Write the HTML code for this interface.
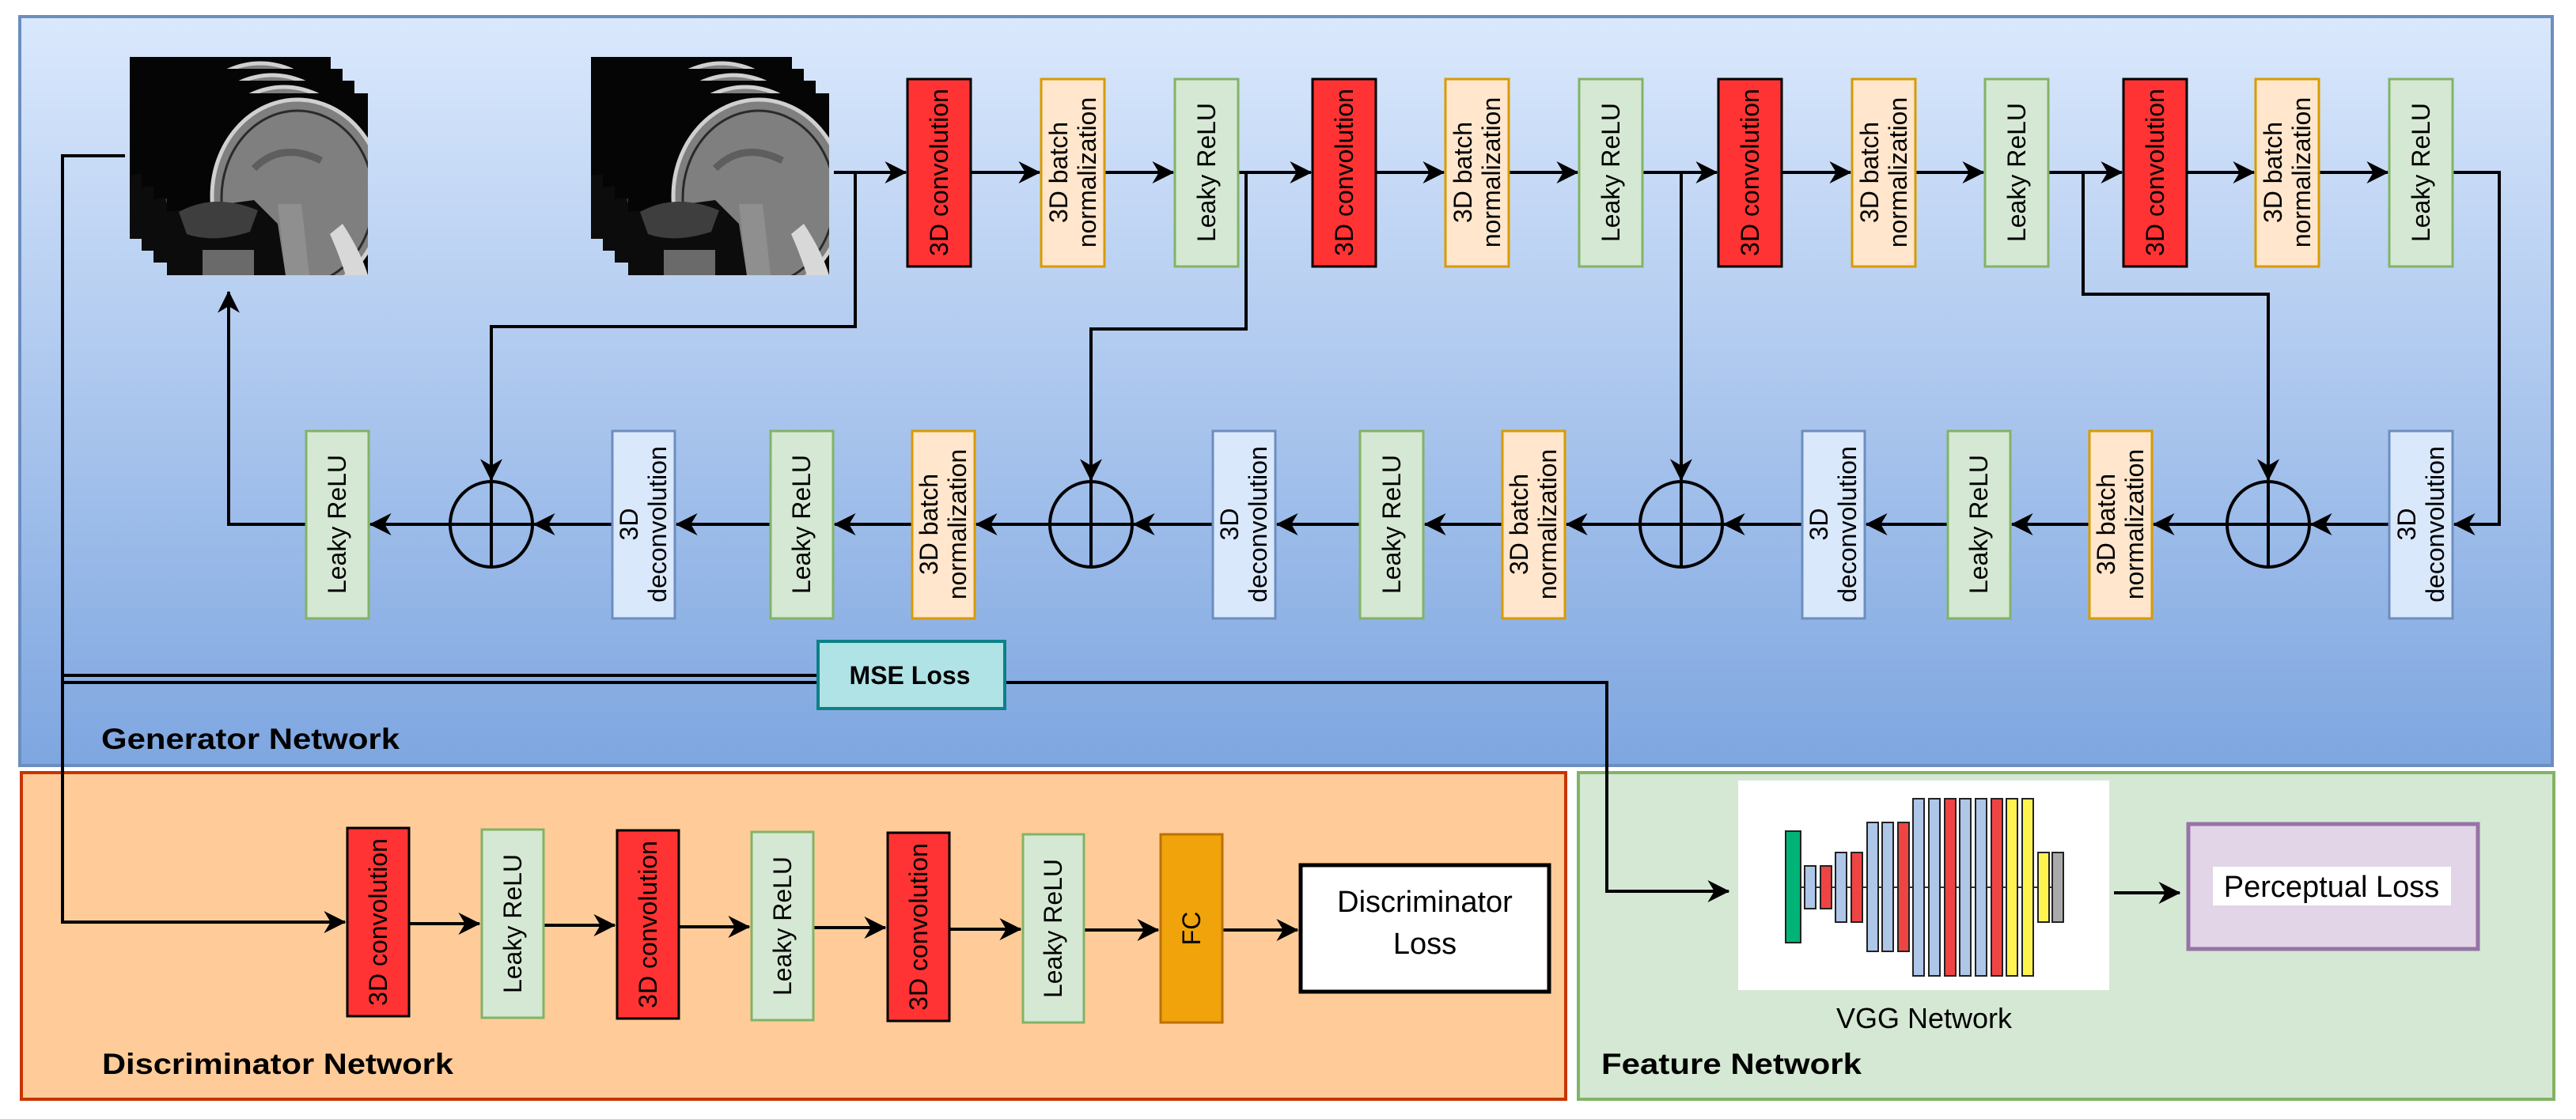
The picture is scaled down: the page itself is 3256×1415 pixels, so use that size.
<!DOCTYPE html>
<html><head><meta charset="utf-8"><style>
html,body{margin:0;padding:0;background:#fff;}
svg{display:block;font-family:"Liberation Sans",Arial,sans-serif;}
</style></head><body>
<svg width="3256" height="1415" viewBox="0 0 3256 1415" xmlns="http://www.w3.org/2000/svg">
<defs>
<linearGradient id="gbg" x1="0" y1="0" x2="0" y2="1">
<stop offset="0" stop-color="#dae8fc"/><stop offset="1" stop-color="#7ea6e0"/>
</linearGradient>
<marker id="ah" viewBox="0 0 10 10" refX="9.5" refY="5" markerWidth="7" markerHeight="7" markerUnits="strokeWidth" orient="auto">
<path d="M0,0 L10,5 L0,10 L3,5 z" fill="#000"/>
</marker>
<clipPath id="mc"><rect x="0" y="0" width="254" height="230"/></clipPath>
<g id="mri">
<rect x="0" y="0" width="254" height="230" fill="#050505"/>
<g clip-path="url(#mc)">
<ellipse cx="165" cy="130" rx="108" ry="122" fill="#7f7f7f" stroke="#d0d0d0" stroke-width="5"/>
<ellipse cx="165" cy="132" rx="96" ry="110" fill="none" stroke="#2a2a2a" stroke-width="3"/>
<path d="M110,95 Q145,60 195,85" fill="none" stroke="#5e5e5e" stroke-width="9"/>
<path d="M0,150 L110,135 L140,165 L150,230 L0,230 z" fill="#0c0c0c"/>
<path d="M15,150 Q60,125 115,148 L105,175 Q60,190 25,178 z" fill="#3e3e3e"/>
<rect x="45" y="198" width="65" height="32" fill="#6a6a6a"/>
<path d="M140,140 L170,140 L180,230 L150,230 z" fill="#8f8f8f"/>
<path d="M222,165 Q245,200 254,230 L226,230 Q216,200 206,178 z" fill="#d8d8d8"/>
</g>
</g>
</defs>

<rect x="25" y="21" width="3201" height="947" fill="url(#gbg)" stroke="#6c8ebf" stroke-width="4"/>
<rect x="27" y="977" width="1952" height="413" fill="#ffcc99" stroke="#c73500" stroke-width="4"/>
<rect x="1995" y="977" width="1233" height="413" fill="#d5e8d4" stroke="#82b366" stroke-width="4"/>

<use href="#mri" x="164" y="72"/><use href="#mri" x="179" y="87"/><use href="#mri" x="194" y="102"/><use href="#mri" x="211" y="118"/>
<use href="#mri" x="747" y="72"/><use href="#mri" x="762" y="87"/><use href="#mri" x="777" y="102"/><use href="#mri" x="794" y="118"/>

<g stroke="#000" stroke-width="4" fill="none">
<path d="M1054,218 H1145" marker-end="url(#ah)"/>
<path d="M1228,218 H1314" marker-end="url(#ah)"/>
<path d="M1396,218 H1483" marker-end="url(#ah)"/>
<path d="M1565,218 H1657" marker-end="url(#ah)"/>
<path d="M1738,218 H1825" marker-end="url(#ah)"/>
<path d="M1907,218 H1994" marker-end="url(#ah)"/>
<path d="M2075,218 H2170" marker-end="url(#ah)"/>
<path d="M2252,218 H2339" marker-end="url(#ah)"/>
<path d="M2421,218 H2507" marker-end="url(#ah)"/>
<path d="M2589,218 H2682" marker-end="url(#ah)"/>
<path d="M2763,218 H2849" marker-end="url(#ah)"/>
<path d="M2931,218 H3018" marker-end="url(#ah)"/>
<path d="M3100,218 H3159 V663 H3102" marker-end="url(#ah)"/>
<path d="M1081,218 V413 H621 V607" marker-end="url(#ah)"/>
<path d="M1575,218 V416 H1379 V607" marker-end="url(#ah)"/>
<path d="M2125,218 V607" marker-end="url(#ah)"/>
<path d="M2633,218 V372 H2867 V607" marker-end="url(#ah)"/>
<path d="M3020,663 H2921" marker-end="url(#ah)"/>
<path d="M2815,663 H2722" marker-end="url(#ah)"/>
<path d="M2641,663 H2543" marker-end="url(#ah)"/>
<path d="M2462,663 H2359" marker-end="url(#ah)"/>
<path d="M2278,663 H2179" marker-end="url(#ah)"/>
<path d="M2073,663 H1980" marker-end="url(#ah)"/>
<path d="M1899,663 H1801" marker-end="url(#ah)"/>
<path d="M1719,663 H1614" marker-end="url(#ah)"/>
<path d="M1533,663 H1433" marker-end="url(#ah)"/>
<path d="M1327,663 H1234" marker-end="url(#ah)"/>
<path d="M1153,663 H1055" marker-end="url(#ah)"/>
<path d="M974,663 H855" marker-end="url(#ah)"/>
<path d="M774,663 H675" marker-end="url(#ah)"/>
<path d="M569,663 H468" marker-end="url(#ah)"/>
<path d="M387,663 H289 V369" marker-end="url(#ah)"/>
<g stroke-width="4">
<ellipse cx="621" cy="663" rx="52" ry="54"/><path d="M569,663 H673 M621,609 V717"/>
<ellipse cx="1379" cy="663" rx="52" ry="54"/><path d="M1327,663 H1431 M1379,609 V717"/>
<ellipse cx="2125" cy="663" rx="52" ry="54"/><path d="M2073,663 H2177 M2125,609 V717"/>
<ellipse cx="2867" cy="663" rx="52" ry="54"/><path d="M2815,663 H2919 M2867,609 V717"/>
</g>
<path d="M158,197 H79 V1166 H436" marker-end="url(#ah)"/>
<path d="M79,854 H1034"/>
<path d="M79,863 H1034"/>
<path d="M1271,863 H2031 V1127 H2185" marker-end="url(#ah)"/>
<path d="M517,1168 H606" marker-end="url(#ah)"/>
<path d="M687,1170 H777" marker-end="url(#ah)"/>
<path d="M858,1172 H947" marker-end="url(#ah)"/>
<path d="M1028,1173 H1119" marker-end="url(#ah)"/>
<path d="M1200,1175 H1290" marker-end="url(#ah)"/>
<path d="M1370,1176 H1464" marker-end="url(#ah)"/>
<path d="M1545,1176 H1640" marker-end="url(#ah)"/>
<path d="M2672,1129 H2755" marker-end="url(#ah)"/>
</g>

<g font-size="32" text-anchor="middle" dominant-baseline="central" fill="#000">
<g stroke-width="3">
<rect x="1147" y="100" width="80" height="237" fill="#ff3333" stroke="#000"/>
<rect x="1316" y="100" width="80" height="237" fill="#ffe6cc" stroke="#d79b00"/>
<rect x="1485" y="100" width="80" height="237" fill="#d5e8d4" stroke="#82b366"/>
<rect x="1659" y="100" width="80" height="237" fill="#ff3333" stroke="#000"/>
<rect x="1827" y="100" width="80" height="237" fill="#ffe6cc" stroke="#d79b00"/>
<rect x="1996" y="100" width="80" height="237" fill="#d5e8d4" stroke="#82b366"/>
<rect x="2172" y="100" width="80" height="237" fill="#ff3333" stroke="#000"/>
<rect x="2341" y="100" width="80" height="237" fill="#ffe6cc" stroke="#d79b00"/>
<rect x="2509" y="100" width="80" height="237" fill="#d5e8d4" stroke="#82b366"/>
<rect x="2684" y="100" width="80" height="237" fill="#ff3333" stroke="#000"/>
<rect x="2851" y="100" width="80" height="237" fill="#ffe6cc" stroke="#d79b00"/>
<rect x="3020" y="100" width="80" height="237" fill="#d5e8d4" stroke="#82b366"/>
<rect x="387" y="545" width="79" height="237" fill="#d5e8d4" stroke="#82b366"/>
<rect x="774" y="545" width="79" height="237" fill="#dae8fc" stroke="#6c8ebf"/>
<rect x="974" y="545" width="79" height="237" fill="#d5e8d4" stroke="#82b366"/>
<rect x="1153" y="545" width="79" height="237" fill="#ffe6cc" stroke="#d79b00"/>
<rect x="1533" y="545" width="79" height="237" fill="#dae8fc" stroke="#6c8ebf"/>
<rect x="1719" y="545" width="80" height="237" fill="#d5e8d4" stroke="#82b366"/>
<rect x="1899" y="545" width="79" height="237" fill="#ffe6cc" stroke="#d79b00"/>
<rect x="2278" y="545" width="79" height="237" fill="#dae8fc" stroke="#6c8ebf"/>
<rect x="2462" y="545" width="79" height="237" fill="#d5e8d4" stroke="#82b366"/>
<rect x="2641" y="545" width="79" height="237" fill="#ffe6cc" stroke="#d79b00"/>
<rect x="3020" y="545" width="80" height="237" fill="#dae8fc" stroke="#6c8ebf"/>
</g>
<text transform="translate(1187,218) rotate(-90)">3D convolution</text>
<text transform="translate(1356,218) rotate(-90)"><tspan x="0" dy="-18">3D batch</tspan><tspan x="0" dy="36">normalization</tspan></text>
<text transform="translate(1525,218) rotate(-90)">Leaky ReLU</text>
<text transform="translate(1699,218) rotate(-90)">3D convolution</text>
<text transform="translate(1867,218) rotate(-90)"><tspan x="0" dy="-18">3D batch</tspan><tspan x="0" dy="36">normalization</tspan></text>
<text transform="translate(2036,218) rotate(-90)">Leaky ReLU</text>
<text transform="translate(2212,218) rotate(-90)">3D convolution</text>
<text transform="translate(2381,218) rotate(-90)"><tspan x="0" dy="-18">3D batch</tspan><tspan x="0" dy="36">normalization</tspan></text>
<text transform="translate(2549,218) rotate(-90)">Leaky ReLU</text>
<text transform="translate(2724,218) rotate(-90)">3D convolution</text>
<text transform="translate(2891,218) rotate(-90)"><tspan x="0" dy="-18">3D batch</tspan><tspan x="0" dy="36">normalization</tspan></text>
<text transform="translate(3060,218) rotate(-90)">Leaky ReLU</text>

<text transform="translate(426,663) rotate(-90)">Leaky ReLU</text>
<text transform="translate(813,663) rotate(-90)"><tspan x="0" dy="-18">3D</tspan><tspan x="0" dy="36">deconvolution</tspan></text>
<text transform="translate(1013,663) rotate(-90)">Leaky ReLU</text>
<text transform="translate(1192,663) rotate(-90)"><tspan x="0" dy="-18">3D batch</tspan><tspan x="0" dy="36">normalization</tspan></text>
<text transform="translate(1572,663) rotate(-90)"><tspan x="0" dy="-18">3D</tspan><tspan x="0" dy="36">deconvolution</tspan></text>
<text transform="translate(1759,663) rotate(-90)">Leaky ReLU</text>
<text transform="translate(1938,663) rotate(-90)"><tspan x="0" dy="-18">3D batch</tspan><tspan x="0" dy="36">normalization</tspan></text>
<text transform="translate(2317,663) rotate(-90)"><tspan x="0" dy="-18">3D</tspan><tspan x="0" dy="36">deconvolution</tspan></text>
<text transform="translate(2501,663) rotate(-90)">Leaky ReLU</text>
<text transform="translate(2680,663) rotate(-90)"><tspan x="0" dy="-18">3D batch</tspan><tspan x="0" dy="36">normalization</tspan></text>
<text transform="translate(3060,663) rotate(-90)"><tspan x="0" dy="-18">3D</tspan><tspan x="0" dy="36">deconvolution</tspan></text>

<g stroke-width="3">
<rect x="439" y="1047" width="78" height="238" fill="#ff3333" stroke="#000"/>
<rect x="609" y="1049" width="78" height="238" fill="#d5e8d4" stroke="#82b366"/>
<rect x="780" y="1050" width="78" height="238" fill="#ff3333" stroke="#000"/>
<rect x="950" y="1052" width="78" height="238" fill="#d5e8d4" stroke="#82b366"/>
<rect x="1122" y="1053" width="78" height="238" fill="#ff3333" stroke="#000"/>
<rect x="1293" y="1055" width="77" height="238" fill="#d5e8d4" stroke="#82b366"/>
<rect x="1467" y="1055" width="78" height="238" fill="#f0a30a" stroke="#bd7000"/>
</g>
<text transform="translate(478,1166) rotate(-90)">3D convolution</text>
<text transform="translate(648,1168) rotate(-90)">Leaky ReLU</text>
<text transform="translate(819,1169) rotate(-90)">3D convolution</text>
<text transform="translate(989,1171) rotate(-90)">Leaky ReLU</text>
<text transform="translate(1161,1172) rotate(-90)">3D convolution</text>
<text transform="translate(1331,1174) rotate(-90)">Leaky ReLU</text>
<text transform="translate(1506,1174) rotate(-90)">FC</text>
</g>

<rect x="1644" y="1094" width="314" height="160" fill="#fff" stroke="#000" stroke-width="5"/>
<text x="1801" y="1153" font-size="38" text-anchor="middle">Discriminator</text>
<text x="1801" y="1206" font-size="38" text-anchor="middle">Loss</text>

<rect x="1034" y="811" width="236" height="85" fill="#b0e3e6" stroke="#0e8088" stroke-width="4"/>
<text x="1150" y="865" font-size="32" font-weight="bold" text-anchor="middle">MSE Loss</text>

<rect x="2197" y="987" width="469" height="265" fill="#fff"/>
<line x1="2257" y1="1122" x2="2597" y2="1122" stroke="#333" stroke-width="2"/>
<g stroke="#222" stroke-width="2">
<rect x="2257" y="1051" width="19" height="141" fill="#00b377"/>
<rect x="2281" y="1095" width="14" height="54" fill="#aec6e8"/>
<rect x="2301" y="1095" width="14" height="54" fill="#ef4444"/>
<rect x="2320" y="1078" width="14" height="88" fill="#aec6e8"/>
<rect x="2340" y="1078" width="14" height="88" fill="#ef4444"/>
<rect x="2360" y="1040" width="14" height="163" fill="#aec6e8"/>
<rect x="2379" y="1040" width="14" height="163" fill="#aec6e8"/>
<rect x="2399" y="1040" width="14" height="163" fill="#ef4444"/>
<rect x="2418" y="1010" width="14" height="224" fill="#aec6e8"/>
<rect x="2438" y="1010" width="14" height="224" fill="#aec6e8"/>
<rect x="2458" y="1010" width="14" height="224" fill="#ef4444"/>
<rect x="2477" y="1010" width="14" height="224" fill="#aec6e8"/>
<rect x="2497" y="1010" width="14" height="224" fill="#aec6e8"/>
<rect x="2517" y="1010" width="14" height="224" fill="#ef4444"/>
<rect x="2536" y="1010" width="14" height="224" fill="#fff44f"/>
<rect x="2556" y="1010" width="14" height="224" fill="#fff44f"/>
<rect x="2576" y="1078" width="14" height="88" fill="#fff44f"/>
<rect x="2594" y="1078" width="14" height="88" fill="#aaaaaa"/>
</g>
<text x="2432" y="1300" font-size="36" text-anchor="middle">VGG Network</text>

<rect x="2766" y="1042" width="366" height="158" fill="#e1d5e7" stroke="#9673a6" stroke-width="5"/>
<rect x="2797" y="1096" width="301" height="49" fill="#fff"/>
<text x="2947" y="1134" font-size="38" text-anchor="middle">Perceptual Loss</text>

<text x="128" y="947" font-size="37" font-weight="bold" textLength="377" lengthAdjust="spacingAndGlyphs">Generator Network</text>
<text x="129" y="1358" font-size="37" font-weight="bold" textLength="444" lengthAdjust="spacingAndGlyphs">Discriminator Network</text>
<text x="2024" y="1358" font-size="37" font-weight="bold" textLength="329" lengthAdjust="spacingAndGlyphs">Feature Network</text>
</svg>
</body></html>
